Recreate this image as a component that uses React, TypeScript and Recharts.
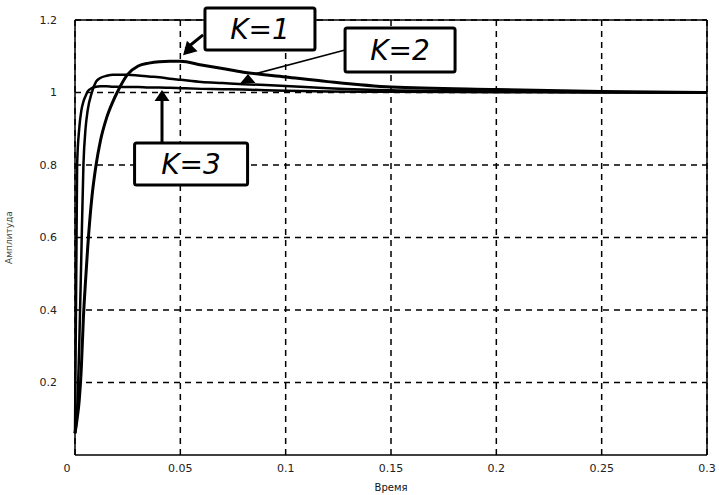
import { LineChart, Line, XAxis, YAxis, CartesianGrid, ReferenceLine, ReferenceDot } from "recharts";

// time samples (s) and step responses for each gain
const time = [0, 0.001, 0.002, 0.003, 0.004, 0.005, 0.006, 0.008, 0.01, 0.012, 0.015, 0.018, 0.02, 0.025, 0.03, 0.035, 0.04, 0.045, 0.05, 0.06, 0.07, 0.08, 0.1, 0.12, 0.15, 0.2, 0.25, 0.3];
const k1 = [0.06, 0.1, 0.15, 0.24, 0.38, 0.48, 0.57, 0.71, 0.8, 0.865, 0.93, 0.975, 1.0, 1.05, 1.073, 1.081, 1.085, 1.086, 1.086, 1.076, 1.066, 1.056, 1.043, 1.03, 1.015, 1.008, 1.003, 1.0];
const k2 = [0.06, 0.12, 0.3, 0.55, 0.8, 0.9, 0.95, 1.0, 1.03, 1.04, 1.046, 1.049, 1.049, 1.049, 1.047, 1.044, 1.042, 1.038, 1.035, 1.029, 1.026, 1.023, 1.018, 1.012, 1.006, 1.003, 1.001, 1.0];
const k3 = [0.06, 0.8, 0.9, 0.95, 0.975, 0.99, 1.003, 1.012, 1.016, 1.017, 1.017, 1.016, 1.016, 1.015, 1.015, 1.014, 1.014, 1.013, 1.012, 1.01, 1.009, 1.008, 1.005, 1.003, 1.002, 1.001, 1.0, 1.0];

const xTicks = [0, 0.05, 0.1, 0.15, 0.2, 0.25, 0.3];
const yTicks = [0.2, 0.4, 0.6, 0.8, 1, 1.2];

const data = time.map((t, i) => ({ t, k1: k1[i], k2: k2[i], k3: k3[i] }));

const FONT = "'DejaVu Sans', Verdana, sans-serif";

function LabelBox(props: any) {
  const { cx, cy, text, w, h } = props;
  if (cx == null || cy == null) return null;
  return (
    <g>
      <rect x={cx - w / 2} y={cy - h / 2} width={w} height={h} rx={2} fill="#fff" stroke="#000" strokeWidth={3} />
      <text x={cx} y={cy + 10} textAnchor="middle" fontFamily={FONT} fontStyle="italic" fontSize={28} fill="#000">
        {text}
      </text>
    </g>
  );
}

function Head(props: any) {
  const { cx, cy, angle, len = 12, width = 14 } = props;
  if (cx == null || cy == null) return null;
  const a = (angle * Math.PI) / 180;
  const dx = Math.cos(a);
  const dy = Math.sin(a);
  const bx = cx - dx * len;
  const by = cy - dy * len;
  const px = -dy * (width / 2);
  const py = dx * (width / 2);
  const pts = `${cx},${cy} ${bx + px},${by + py} ${bx - px},${by - py}`;
  return <polygon points={pts} fill="#000" />;
}

const XTick = (props: any) => {
  const { x, y, payload } = props;
  const shift = payload.value === 0 ? -8 : 0;
  return (
    <text x={x + shift} y={y + 9} textAnchor="middle" fontFamily={FONT} fontSize={11} fill="#222">
      {payload.value}
    </text>
  );
};

export default function App() {
  return (
    <div style={{ position: "absolute", left: 0, top: 0, background: "#fff" }}>
      <LineChart width={719} height={495} data={data} margin={{ top: 20, right: 12, left: 0, bottom: 0 }}>
        <CartesianGrid stroke="#000" strokeWidth={1.5} strokeDasharray="6 5" horizontalValues={yTicks} verticalValues={xTicks} />
        <XAxis
          dataKey="t"
          type="number"
          domain={[0, 0.3]}
          ticks={xTicks}
          tickLine={false}
          axisLine={{ stroke: "#000", strokeWidth: 1.5 }}
          height={40}
          tick={<XTick />}
          label={{ value: "Время", position: "insideBottom", offset: 4, fontFamily: FONT, fontSize: 10, fill: "#111" }}
        />
        <YAxis
          type="number"
          domain={[0, 1.2]}
          ticks={yTicks}
          tickLine={false}
          axisLine={{ stroke: "#000", strokeWidth: 1.5 }}
          width={75}
          tickMargin={12}
          tick={{ fontFamily: FONT, fontSize: 11, fill: "#222" }}
          label={{ value: "Амплитуда", angle: -90, position: "insideLeft", offset: 9, fontFamily: FONT, fontSize: 9, fill: "#444", style: { textAnchor: "middle" } }}
        />
        <ReferenceLine y={1.2} stroke="#000" strokeWidth={1.5} />
        <ReferenceLine x={0.3} stroke="#000" strokeWidth={1.5} />
        <Line type="monotone" dataKey="k1" stroke="#000" strokeWidth={3} dot={false} isAnimationActive={false} />
        <Line type="monotone" dataKey="k2" stroke="#000" strokeWidth={2.5} dot={false} isAnimationActive={false} />
        <Line type="monotone" dataKey="k3" stroke="#000" strokeWidth={2.5} dot={false} isAnimationActive={false} />

        {/* K=1 */}
        <ReferenceLine segment={[{ x: 0.0608, y: 1.159 }, { x: 0.0525, y: 1.12 }]} stroke="#000" strokeWidth={3} ifOverflow="visible" />
        <ReferenceDot x={0.0513} y={1.103} ifOverflow="visible" shape={(p: any) => <Head {...p} angle={135} len={13} width={15} />} />
        <ReferenceDot x={0.0878} y={1.175} ifOverflow="visible" shape={(p: any) => <LabelBox {...p} text="K=1" w={110} h={42} />} />

        {/* K=2 */}
        <ReferenceLine segment={[{ x: 0.1282, y: 1.117 }, { x: 0.0845, y: 1.05 }]} stroke="#000" strokeWidth={1.5} ifOverflow="visible" />
        <ReferenceDot x={0.0821} y={1.051} ifOverflow="visible" shape={(p: any) => <Head {...p} angle={-90} len={9} width={15} />} />
        <ReferenceDot x={0.1543} y={1.117} ifOverflow="visible" shape={(p: any) => <LabelBox {...p} text="K=2" w={110} h={44} />} />

        {/* K=3 */}
        <ReferenceLine segment={[{ x: 0.0413, y: 0.861 }, { x: 0.0413, y: 0.979 }]} stroke="#000" strokeWidth={3} ifOverflow="visible" />
        <ReferenceDot x={0.0413} y={1.007} ifOverflow="visible" shape={(p: any) => <Head {...p} angle={-90} len={11} width={15} />} />
        <ReferenceDot x={0.0551} y={0.803} ifOverflow="visible" shape={(p: any) => <LabelBox {...p} text="K=3" w={113} h={42} />} />
      </LineChart>
    </div>
  );
}
